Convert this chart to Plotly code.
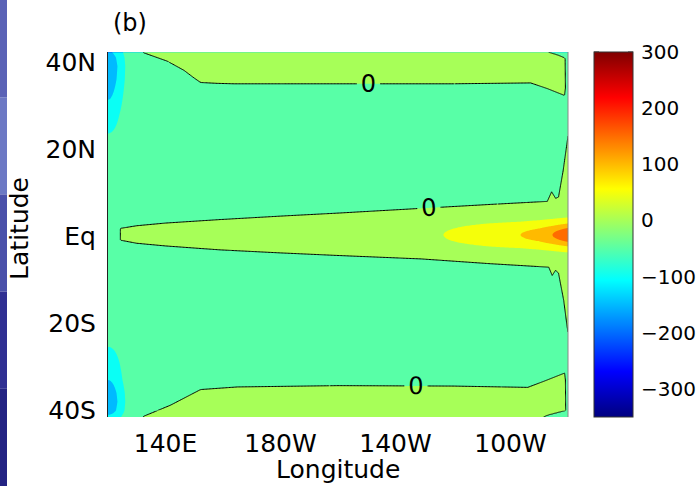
import numpy as np
import plotly.graph_objects as go

# ---------------- data ----------------
# zero contour bounding the equatorial tongue (deg E / deg N)
tongue_n_lon = [124.3, 130, 140, 159, 180, 200, 229, 253, 272.8, 274.3, 275.7, 276.7, 278.3, 279.7, 280]
tongue_n_lat = [1.8, 2.4, 3.0, 3.8, 4.6, 5.3, 6.4, 7.3, 8.0, 10.2, 8.7, 9.0, 15.0, 21.6, 23.0]
tongue_s_lon = [124.3, 130, 140, 159, 180, 200, 229, 253, 273.3, 274.5, 275.7, 276.7, 278.5, 279.7, 280]
tongue_s_lat = [-0.9, -1.6, -2.2, -3.1, -3.8, -4.4, -5.2, -6.3, -7.1, -9.0, -7.8, -8.5, -14.7, -20.8, -22.0]
tongue_west_lon = 124.3

# zero contour bounding the northern positive band
nband_lon = [120, 128, 132.5, 140.6, 146.4, 149.8, 152.2, 158, 163.7, 200, 240, 267, 272.8, 278.5, 280]
nband_lat = [47, 44.5, 42.1, 40.2, 38.1, 36.4, 35.3, 35.1, 35.0, 35.0, 35.0, 35.2, 33.9, 32.4, 32.0]
nband_east_lat = [30, 32.4, 34, 40.9, 41.6, 42.3]
nband_east_lon = [278.6, 278.8, 279.1, 279.0, 276.5, 273.0]

# zero contour bounding the southern positive band
sband_lon = [120, 128, 132.5, 141.7, 152.2, 165, 200, 240, 266, 271.6, 278.5, 280]
sband_lat = [-47, -44, -41.3, -38.8, -35.2, -34.6, -34.3, -34.4, -34.7, -33.3, -31.5, -31.0]
sband_east_lat = [-41.5, -41.1, -40.0, -33, -31.3, -30]
sband_east_lon = [271.5, 272.8, 279.2, 279.1, 278.8, 278.6]

# warm equatorial tongue: peak value above the band value along the equator
warm_lon = [124, 230, 236.7, 245, 253, 263.5, 270, 274.6, 280]
warm_amp = [0, 15, 25, 42, 58, 75, 97, 125, 170]

# cold anomaly along the western boundary (peak depth vs latitude)
cold_lat = [-41.5, -40, -38, -36, -33, -29, -25.4, -22, 20, 23.6, 28, 32, 36, 39, 41, 42.3]
cold_amp = [60, 105, 120, 110, 75, 50, 25, 0, 0, 25, 50, 80, 110, 120, 105, 80]

band_value = 25.0          # value inside / outside the zero contours (+/-)

lon_ticks = [140, 180, 220, 260]
lon_ticktext = ["140E", "180W", "140W", "100W"]
lat_ticks = [-40, -20, 0, 20, 40]
lat_ticktext = ["40S", "20S", "Eq", "20N", "40N"]
cbar_ticks = [-300, -200, -100, 0, 100, 200, 300]
cbar_ticktext = ["\u2212300", "\u2212200", "\u2212100", "0", "100", "200", "300"]
cmin, cmax = -350, 300
level_start, level_end, level_step = -300, 250, 50

# stretches of the zero contour that carry the "0" labels: (lon0, lon1, lat0, lat1)
label_windows = [(180.5, 240.5, 30.0, 40.0), (195.5, 255.5, 1.0, 12.0), (197.0, 257.0, -40.0, -29.0)]

# ---------------- build the gridded field ----------------
lon = np.round(np.concatenate([np.arange(120, 270, 0.5), np.arange(270, 280.001, 0.1)]), 2)
lat = np.round(np.arange(-41.5, 42.3001, 0.25), 2)
LON, LAT = np.meshgrid(lon, lat)
k = 0.66  # lon-degree to lat-degree scale on screen

Nt = np.interp(lon, tongue_n_lon, tongue_n_lat)[None, :]
St = np.interp(lon, tongue_s_lon, tongue_s_lat)[None, :]
d_t = np.minimum(np.minimum(Nt - LAT, LAT - St), (LON - tongue_west_lon) * k)

Nb = np.interp(lon, nband_lon, nband_lat)[None, :]
Eb = np.interp(lat, nband_east_lat, nband_east_lon)[:, None]
d_n = np.minimum(LAT - Nb, (Eb - LON) * k)

Sb = np.interp(lon, sband_lon, sband_lat)[None, :]
Es = np.interp(lat, sband_east_lat, sband_east_lon)[:, None]
d_s = np.minimum(Sb - LAT, (Es - LON) * k)

D = np.maximum(np.maximum(d_t, d_n), d_s)
z = band_value * np.tanh(D / 0.6)
z = z + np.interp(lon, warm_lon, warm_amp)[None, :] * np.exp(-((LAT - 0.3) / 2.9) ** 2)
z = z - np.interp(lat, cold_lat, cold_amp)[:, None] * np.exp(-((LON - 120) / 4.79) ** 2)
z = np.round(z, 1)


def jet(f):
    f = float(np.clip(f, 0, 1))
    r = np.clip(min(4 * f - 1.5, -4 * f + 4.5), 0, 1)
    g = np.clip(min(4 * f - 0.5, -4 * f + 3.5), 0, 1)
    b = np.clip(min(4 * f + 0.5, -4 * f + 2.5), 0, 1)
    return "rgb(%d,%d,%d)" % (round(r * 255), round(g * 255), round(b * 255))


# MATLAB-style fill: each band is coloured by its lower level
nc = int(np.floor((level_end - level_start) / level_step)) + 1
fill_scale = []
for i in range(nc + 1):
    lower = level_start + (i - 1) * level_step if i > 0 else cmin
    fill_scale.append([i / nc, jet((lower - cmin) / (cmax - cmin))])

cont_scale = [[i / 64, jet(i / 64)] for i in range(65)]

FONT = "DejaVu Sans, Arial, sans-serif"
LABELFONT = dict(size=24, color="black", family=FONT)

fig = go.Figure()
fig.add_trace(go.Contour(
    x=lon, y=lat, z=z,
    contours=dict(start=level_start, end=level_end, size=level_step, coloring="fill"),
    colorscale=fill_scale, showscale=False,
    line=dict(width=0), hoverinfo="skip",
))


def idx(arr, v):
    return int(np.argmin(np.abs(arr - v)))


def zero_line(lon0, lon1, lat0, lat1, labels):
    i0, i1 = idx(lon, lon0), idx(lon, lon1)
    j0, j1 = idx(lat, lat0), idx(lat, lat1)
    fig.add_trace(go.Contour(
        x=lon[i0:i1 + 1], y=lat[j0:j1 + 1], z=z[j0:j1 + 1, i0:i1 + 1],
        contours=dict(start=0, end=0, size=1, coloring="none", showlabels=labels,
                      labelfont=LABELFONT),
        line=dict(width=1, color="black", smoothing=1),
        showscale=False, hoverinfo="skip",
    ))


# zero contour: labelled pieces + unlabelled tiles covering the rest of the map
lat_edges = sorted(set([lat[0], lat[-1]] + [w[2] for w in label_windows] + [w[3] for w in label_windows]))
for a, b in zip(lat_edges[:-1], lat_edges[1:]):
    cuts = [w for w in label_windows if w[2] <= a and w[3] >= b]
    segs, start = [], lon[0]
    for w in sorted(cuts):
        segs.append((start, w[0]))
        start = w[1]
    segs.append((start, lon[-1]))
    for s0, s1 in segs:
        if s1 > s0:
            zero_line(s0, s1, a, b, False)
for w in label_windows:
    zero_line(w[0], w[1], w[2], w[3], True)

# plot-area geometry (px) used for paper-coordinate placement
PL, PR, PT, PB = 108, 568, 52, 417
PW, PH = PR - PL, PB - PT
CB_X0, CB_X1 = 594, 633

fig.add_trace(go.Scatter(
    x=[200], y=[0], mode="markers", hoverinfo="skip", showlegend=False,
    marker=dict(size=0.1, opacity=0, color=[0], cmin=cmin, cmax=cmax,
                colorscale=cont_scale, showscale=True,
                colorbar=dict(x=(CB_X0 - PL) / PW, xanchor="left", xpad=0,
                              y=0.5, yanchor="middle", ypad=0, len=1, lenmode="fraction",
                              thickness=CB_X1 - CB_X0, thicknessmode="pixels",
                              outlinecolor="#333333", outlinewidth=1,
                              tickvals=cbar_ticks, ticktext=cbar_ticktext,
                              ticks="outside", ticklen=4, tickcolor="rgba(0,0,0,0)",
                              tickfont=dict(size=20, color="black", family=FONT))),
))

# small inward tick marks on both sides of the colour bar
for v in cbar_ticks:
    yp = (v - cmin) / (cmax - cmin)
    for xa, xb in ((CB_X0, CB_X0 + 5), (CB_X1 - 5, CB_X1)):
        fig.add_shape(type="line", xref="paper", yref="paper",
                      x0=(xa - PL) / PW, x1=(xb - PL) / PW, y0=yp, y1=yp,
                      line=dict(color="#333333", width=1))

# left slide-background strip
strip_cols = ["#5a62b6", "#6c78c4", "#4a50aa", "#2f2f92", "#232383"]
for i, col in enumerate(strip_cols):
    fig.add_shape(type="rect", xref="paper", yref="paper",
                  x0=-PL / PW, x1=(7 - PL) / PW,
                  y0=1 + PT / PH - (i + 1) * (486 / PH) / len(strip_cols),
                  y1=1 + PT / PH - i * (486 / PH) / len(strip_cols),
                  fillcolor=col, line=dict(width=0), layer="above")
fig.add_shape(type="line", xref="paper", yref="paper", x0=1, x1=1, y0=0, y1=1,
              line=dict(color="#888888", width=1))

fig.add_annotation(text="(b)", xref="paper", yref="paper", x=(111 - PL) / PW, y=1 + (PT - 23) / PH,
                   xanchor="left", yanchor="middle", showarrow=False,
                   font=dict(size=24, color="black", family=FONT))
fig.add_annotation(text="Longitude", xref="paper", yref="paper", x=0.5, y=-(469 - PB) / PH,
                   xanchor="center", yanchor="middle", showarrow=False, borderpad=0,
                   font=dict(size=25, color="black", family=FONT))
fig.add_annotation(text="Latitude", xref="paper", yref="paper", x=(19.6 - PL) / PW, y=(PB - 228.3) / PH,
                   xanchor="center", yanchor="middle", showarrow=False, textangle=-90, borderpad=0,
                   font=dict(size=25, color="black", family=FONT))

fig.update_layout(
    width=696, height=486,
    margin=dict(l=PL, r=696 - PR, t=PT, b=486 - PB, autoexpand=False),
    paper_bgcolor="white", plot_bgcolor="white",
    showlegend=False,
    font=dict(family=FONT, color="black"),
    xaxis=dict(range=[120, 280], tickvals=lon_ticks, ticktext=lon_ticktext,
               ticks="outside", ticklen=4, tickcolor="rgba(0,0,0,0)",
               showgrid=False, zeroline=False, showline=False,
               tickfont=dict(size=25)),
    yaxis=dict(range=[-41.5, 42.3], tickvals=lat_ticks, ticktext=lat_ticktext,
               ticks="outside", ticklen=6, tickcolor="rgba(0,0,0,0)",
               showgrid=False, zeroline=False, showline=True, linecolor="#222222", linewidth=1,
               tickfont=dict(size=25)),
)

fig.write_html("out.html")
